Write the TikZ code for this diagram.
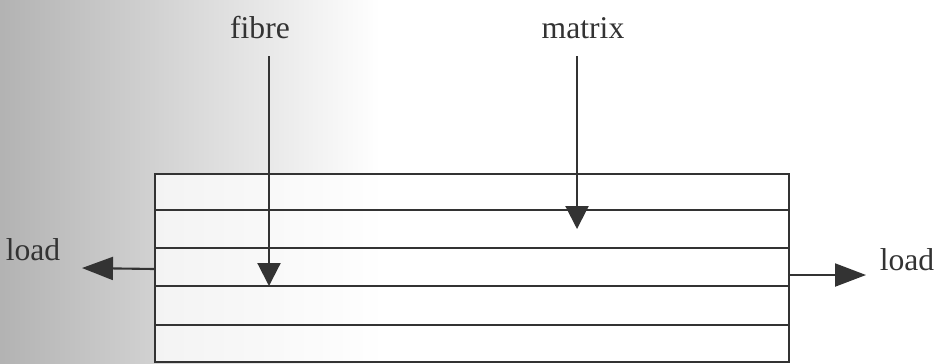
\documentclass[tikz,border=0pt]{standalone}
\usepackage{fontspec}
\setmainfont{Liberation Serif}
\usetikzlibrary{arrows.meta, positioning}

\begin{document}
\begin{tikzpicture}[
    layer/.style={line width=0.6pt, draw=black!80},
    pointer/.style={line width=0.6pt, draw=black!80,
        -{Triangle[length=2.3mm, width=2.3mm]}},
    pull/.style={line width=0.6pt, draw=black!80,
        -{Triangle[length=3.1mm, width=2.3mm]}},
    tag/.style={font=\fontsize{9}{11}\selectfont, text=black!80, inner sep=1pt}
]
    % page size and scan shading
    \useasboundingbox (0,0) rectangle (9.42,-3.63);
    \shade[left color=black!30, middle color=black!9, right color=white]
        (0,0) rectangle (3.8,-3.63);
    \fill[white, opacity=0.75] (1.55,-1.74) rectangle (7.89,-3.63);

    % laminate of fibres in matrix
    \draw[layer] (1.55,-3.63) -- (1.55,-1.74) -- (7.89,-1.74) -- (7.89,-3.63);
    \foreach \y in {2.10,2.48,2.86,3.25,3.62}
        \draw[layer] (1.55,-\y) -- (7.89,-\y);

    % labels
    \node[tag] (fibre) at (2.60,-0.28) {fibre};
    \node[tag] (matrix) at (5.83,-0.28) {matrix};
    \node[tag] (load left) at (0.33,-2.50) {load};
    \node[tag] (load right) at (9.07,-2.60) {load};

    % arrow ends
    \coordinate (fibre top) at (2.69,-0.56);
    \coordinate (fibre tip) at (2.69,-2.86);
    \coordinate (matrix top) at (5.77,-0.56);
    \coordinate (matrix tip) at (5.77,-2.29);
    \coordinate (left edge) at (1.55,-2.69);
    \coordinate (left tip) at (0.82,-2.68);
    \coordinate (right edge) at (7.89,-2.75);
    \coordinate (right tip) at (8.66,-2.75);

    \draw[pointer] (fibre top) -- (fibre tip);
    \draw[pointer] (matrix top) -- (matrix tip);
    \draw[pull] (left edge) -- (left tip);
    \draw[pull] (right edge) -- (right tip);
\end{tikzpicture}
\end{document}
